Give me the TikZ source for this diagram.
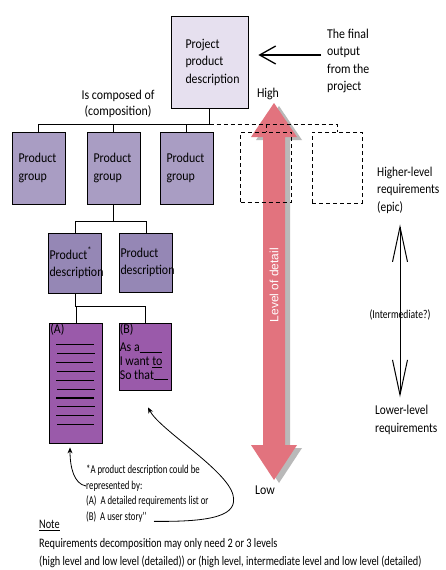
\documentclass[tikz,border=0pt]{standalone}
\usepackage{fontspec}
\setmainfont{Carlito}[FakeStretch=0.88]
\newfontfamily\sidefont{Carlito}[FakeStretch=0.84]
\newfontfamily\narrowfont{Carlito}[FakeStretch=0.8]
\newfontfamily\condfont{Carlito}[FakeStretch=0.73]
\newfontfamily\notefont{Carlito}[FakeStretch=0.79]
\newfontfamily\arialfont{Liberation Sans}
\usetikzlibrary{positioning, arrows.meta, calc}
\definecolor{projfill}{HTML}{E6E0EF}
\definecolor{groupfill}{HTML}{A99DC3}
\definecolor{descfill}{HTML}{9587B5}
\definecolor{listfill}{HTML}{9A5AAA}
\definecolor{detailred}{HTML}{E2737E}

\begin{document}
\begin{tikzpicture}[x=1pt, y=-1pt, >={Stealth[length=6pt, width=5pt]},
  every node/.style={inner sep=0pt},
  body/.style={font=\fontsize{13.5}{17.5}\selectfont},
  box/.style={draw, line width=.8pt, body, align=left},
  projbox/.style={box, fill=projfill, minimum width=77pt, minimum height=92pt, text width=48pt},
  groupbox/.style={box, fill=groupfill, minimum width=53pt, minimum height=72pt, text width=40pt},
  ghostbox/.style={draw, dash pattern=on 4pt off 3pt, line width=.8pt, minimum width=51pt, minimum height=70pt},
  descbox/.style={box, fill=descfill, minimum width=53pt, minimum height=60pt, text width=51pt},
  listbox/.style={box, fill=listfill, minimum width=53pt},
  wire/.style={line width=.8pt},
  ghostwire/.style={wire, dash pattern=on 4pt off 3pt},
  side/.style={font=\sidefont\fontsize{13.5}{17.5}\selectfont, align=left},
  foot/.style={font=\condfont\fontsize{12}{15.5}\selectfont, align=left},
  notetext/.style={font=\notefont\fontsize{13}{18.5}\selectfont, align=left}]
  \useasboundingbox[fill=white] (0,0) rectangle (446,570);

  \foreach \dx/\dy/\col in {5/3/gray!55, 0/0/detailred}
    \fill[\col, shift={(\dx,\dy)}] (274,103) -- (297,137) -- (285,137) -- (285,445) -- (297,445)
      -- (274,480) -- (251,445) -- (263,445) -- (263,137) -- (251,137) -- cycle;
  \node[font=\arialfont\fontsize{12}{12}\selectfont, text=white, rotate=90] (lod) at (274,285) {Level of detail};
  \node[body] (high) at (268,94) {High};
  \node[body] (low) at (265,490) {Low};

  \node[projbox] (proj) at (209.5,62) {Project\\product\\description};
  \node[body, anchor=west, align=left] (final) at (327,61) {The final\\output\\from the\\project};
  \draw[-{Straight Barb[length=16pt, width=18pt]}, line width=1.3pt]
    ($(final.west)+(-6,-6)$) -- ($(proj.east)+(10,-7)$);
  \node[font=\fontsize{13.5}{16}\selectfont, align=center] (comp) at (118,104) {Is composed of\\(composition)};

  \node[groupbox] (grpA) at (38.5,168) {Product\\group};
  \node[groupbox] (grpB) at (113.5,168) {Product\\group};
  \node[groupbox] (grpC) at (186.5,168) {Product\\group};
  \node[ghostbox] (dashA) at (266,167) {};
  \node[ghostbox, minimum width=50pt, minimum height=71pt] (dashB) at (337,167.5) {};

  \coordinate (bus) at (209.5,124);
  \draw[wire] (proj.south) -- (bus) -| (grpA.north);
  \draw[wire] (bus) -| (grpB.north);
  \draw[wire] (bus) -| (grpC.north);
  \draw[ghostwire] (bus) -| (dashB.north);
  \draw[ghostwire] (dashA.north |- bus) -- (dashA.north);

  \node[descbox] (descA) at (75,263) {Product\textsuperscript{*}\\description};
  \node[descbox, minimum height=59pt] (descB) at (146,262.5) {Product\\description};
  \coordinate (split1) at ($(grpB.south)+(0,17)$);
  \draw[wire] (grpB.south) -- (split1) -| (descA.north);
  \draw[wire] (split1) -| (descB.north);

  \node[listbox, minimum height=120pt] (lstA) at (76,383) {};
  \node[listbox, minimum width=52pt, minimum height=67pt] (lstB) at (145,356.5) {};
  \coordinate (split2) at ($(descA.south)+(0,13)$);
  \draw[wire] (descA.south) -- (split2) -| (lstA.north);
  \draw[wire] (split2) -| (lstB.north);
  \node[body, anchor=north west] (tagA) at ($(lstA.north west)+(1,1)$) {(A)};
  \foreach \y/\a/\b in {0/7/45, 1/8/46, 2/7/44, 3/8/46, 4/7/45, 5/8/46, 6/7/45, 7/8/46, 8/7/45, 9/8/45}
    \draw[line width=1.1pt] ($(lstA.north west)+(\a,22+8.9*\y)$) -- ($(lstA.north west)+(\b,22+8.9*\y)$);
  \node[font=\fontsize{13.5}{13.8}\selectfont, align=left, anchor=north west] (story) at ($(lstB.north west)+(1,1)$)
    {(B)\\[4pt]As a\rule[-1pt]{22pt}{.6pt}\\I want \underline{to}\\So that\rule[-1pt]{14pt}{.6pt}};

  \node[side, anchor=west] (hi) at (377,190) {Higher-level\\requirements\\(epic)};
  \node[side, anchor=west] (lo) at (375,420) {Lower-level\\requirements};
  \node[font=\narrowfont\fontsize{12}{12}\selectfont] (mid) at (400,315) {(Intermediate?)};
  \draw[{Straight Barb[length=35pt, width=15pt]}-{Straight Barb[length=35pt, width=15pt]}, line width=1pt]
    ($(hi.south -| mid)+(0,11)$) -- ($(lo.north -| mid)+(0,-8)$);

  \node[foot, anchor=north west] (fn) at (86,465)
    {*A product description could be\\represented by:\\(A)\ \ A detailed requirements list or\\(B)\ \ A user story''};
  \draw[->, wire] ($(fn.north west)+(0,21)$) .. controls +(-12,-2) and +(0,20) .. ($(lstA.south)+(-6,4)$);
  \draw[->, wire] ($(fn.south west)+(68,-1)$) .. controls (215,522) and (238,515) .. (233,495)
    .. controls (227,470) and (160,430) .. ($(lstB.south)+(3,17)$);

  \node[notetext, anchor=north west] (note) at (39,520)
    {\underline{Note}\\Requirements decomposition may only need 2 or 3 levels\\(high level and low level (detailed)) or (high level, intermediate level and low level (detailed)};
\end{tikzpicture}
\end{document}
